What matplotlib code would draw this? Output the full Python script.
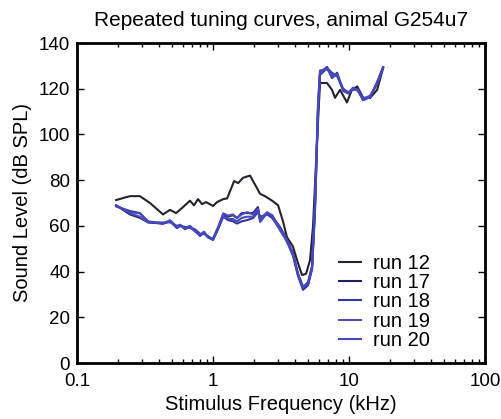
import matplotlib
matplotlib.use("Agg")
import matplotlib.pyplot as plt
from matplotlib.ticker import LogLocator, NullFormatter, FixedLocator, FixedFormatter

plt.rcParams['font.family'] = ['Liberation Sans', 'DejaVu Sans']

# Frequencies in kHz, thresholds in dB SPL
freq_12 = [0.194, 0.245, 0.29, 0.344, 0.429, 0.483, 0.535, 0.592, 0.677, 0.725,
           0.776, 0.830, 0.889, 1.0, 1.07, 1.19, 1.27, 1.43, 1.53, 1.66, 1.87,
           2.04, 2.22, 2.41, 2.72, 3.01, 3.27, 3.50, 3.87, 4.15, 4.51, 4.83,
           5.17, 5.44, 5.82, 6.12, 6.89, 7.50, 7.89, 8.59, 9.66, 10.5, 11.5,
           12.7, 14.3, 16.1, 17.8]
level_12 = [71.3, 73, 73, 70, 65, 67, 65.6, 67.8, 71, 69,
            71.7, 69.5, 70.4, 68.7, 70.4, 71.7, 72, 79.6, 78.7, 81, 82,
            78, 74, 73, 71, 69, 62, 55, 51, 45, 38.5, 39,
            45, 60, 97, 122.5, 122.5, 119.5, 116, 119.5, 114, 119.5, 121,
            116, 116, 119.5, 129]

freq_blue = [0.194, 0.245, 0.29, 0.333, 0.429, 0.483, 0.544, 0.572, 0.622, 0.677,
             0.737, 0.802, 0.859, 0.919, 1.0, 1.09, 1.19, 1.29, 1.40, 1.50,
             1.63, 1.78, 1.97, 2.14, 2.22, 2.50, 2.72, 3.11, 3.50, 3.87,
             4.22, 4.59, 5.00, 5.35, 5.62, 5.92, 6.12, 6.89, 7.50, 8.17,
             9.04, 9.84, 10.7, 11.6, 12.7, 14.3, 16.1, 17.8]
level_17 = [69, 65, 63.5, 61.5, 61, 62, 59.5, 60.4, 59, 59.5,
            58, 56, 57, 55, 54, 59, 65, 64, 64.7, 63.4,
            65.6, 65.6, 65.6, 68.2, 62.5, 65.6, 64, 59.5, 54, 48,
            39, 32.8, 35, 42, 68, 112, 127, 129.5, 124.7, 127,
            119.5, 118, 120, 119.5, 115, 116.4, 122.5, 129.5]
level_18 = [68.5, 66.5, 65.6, 61.7, 61, 62, 59, 60, 59.5, 59,
            58.5, 56.5, 56.5, 55.5, 54, 58.5, 64, 62.5, 62, 61,
            62, 62.5, 63.4, 66, 64, 65, 63.5, 58.5, 53, 47,
            38, 32, 34, 41, 66, 110, 126, 129, 127, 125.5,
            120, 118.5, 119.5, 120, 116, 116, 123, 129]
level_19 = [69, 65.5, 64, 61.5, 61.5, 61.5, 60, 60.5, 58.5, 59.5,
            57.5, 56, 57.5, 55, 54.5, 59.5, 65.5, 64.5, 65, 63.5,
            65, 66, 65, 67.5, 63, 66, 64.5, 58, 53.5, 47.5,
            38.5, 33, 35.5, 42.5, 70, 114, 128, 128.5, 126, 126.5,
            119, 118, 120.5, 119, 115.5, 117, 122, 129.5]
level_20 = [68.8, 66, 65.5, 62, 61, 62.5, 59.5, 60, 59, 60,
            58, 55.5, 57, 55, 53.8, 59, 64.5, 63, 63, 62,
            63.5, 64, 64, 67, 61.7, 65.6, 64.7, 59, 54, 48,
            39, 33.5, 35, 41.5, 67, 111, 126.5, 129.5, 125, 126,
            120, 118, 120, 119.5, 115, 116.4, 122.5, 129]

runs = [
    ("run 12", freq_12, level_12, "#23232f"),
    ("run 17", freq_blue, level_17, "#1f1f66"),
    ("run 18", freq_blue, level_18, "#3535a2"),
    ("run 19", freq_blue, level_19, "#4d4dbd"),
    ("run 20", freq_blue, level_20, "#4547bf"),
]

fig = plt.figure(figsize=(5.01, 4.19), dpi=100)
ax = fig.add_axes([77 / 501, 1 - 363 / 419, 408 / 501, 320 / 419])

for label, f, lv, c in runs:
    ax.plot(f, lv, color=c, lw=1.5, label=label)

ax.set_xscale('log')
ax.set_xlim(0.1, 100)
ax.set_ylim(0, 140)
ax.xaxis.set_major_locator(FixedLocator([0.1, 1, 10, 100]))
ax.xaxis.set_major_formatter(FixedFormatter(['0.1', '1', '10', '100']))
ax.xaxis.set_minor_locator(LogLocator(base=10, subs=range(2, 10)))
ax.xaxis.set_minor_formatter(NullFormatter())
ax.set_yticks(range(0, 141, 20))

ax.tick_params(which='both', direction='in', top=True, right=True,
               labelsize=13.5, width=1, colors='black')
ax.tick_params(axis='y', pad=5)
ax.tick_params(axis='x', pad=7)
ax.tick_params(which='major', length=5)
ax.tick_params(which='minor', length=3)
for s in ax.spines.values():
    s.set_linewidth(2)

ax.set_title("Repeated tuning curves, animal G254u7", fontsize=15, pad=12)
ax.set_xlabel("Stimulus Frequency (kHz)", fontsize=14.5, labelpad=4)
ax.set_ylabel("Sound Level (dB SPL)", fontsize=14.5, labelpad=5)

ax.legend(loc='lower left', frameon=False, fontsize=14.5, handlelength=1.1,
          handletextpad=0.6, labelspacing=0.02, borderaxespad=0, borderpad=0,
          bbox_to_anchor=(0.642, 0.04))

fig.savefig("out.png", dpi=100)
